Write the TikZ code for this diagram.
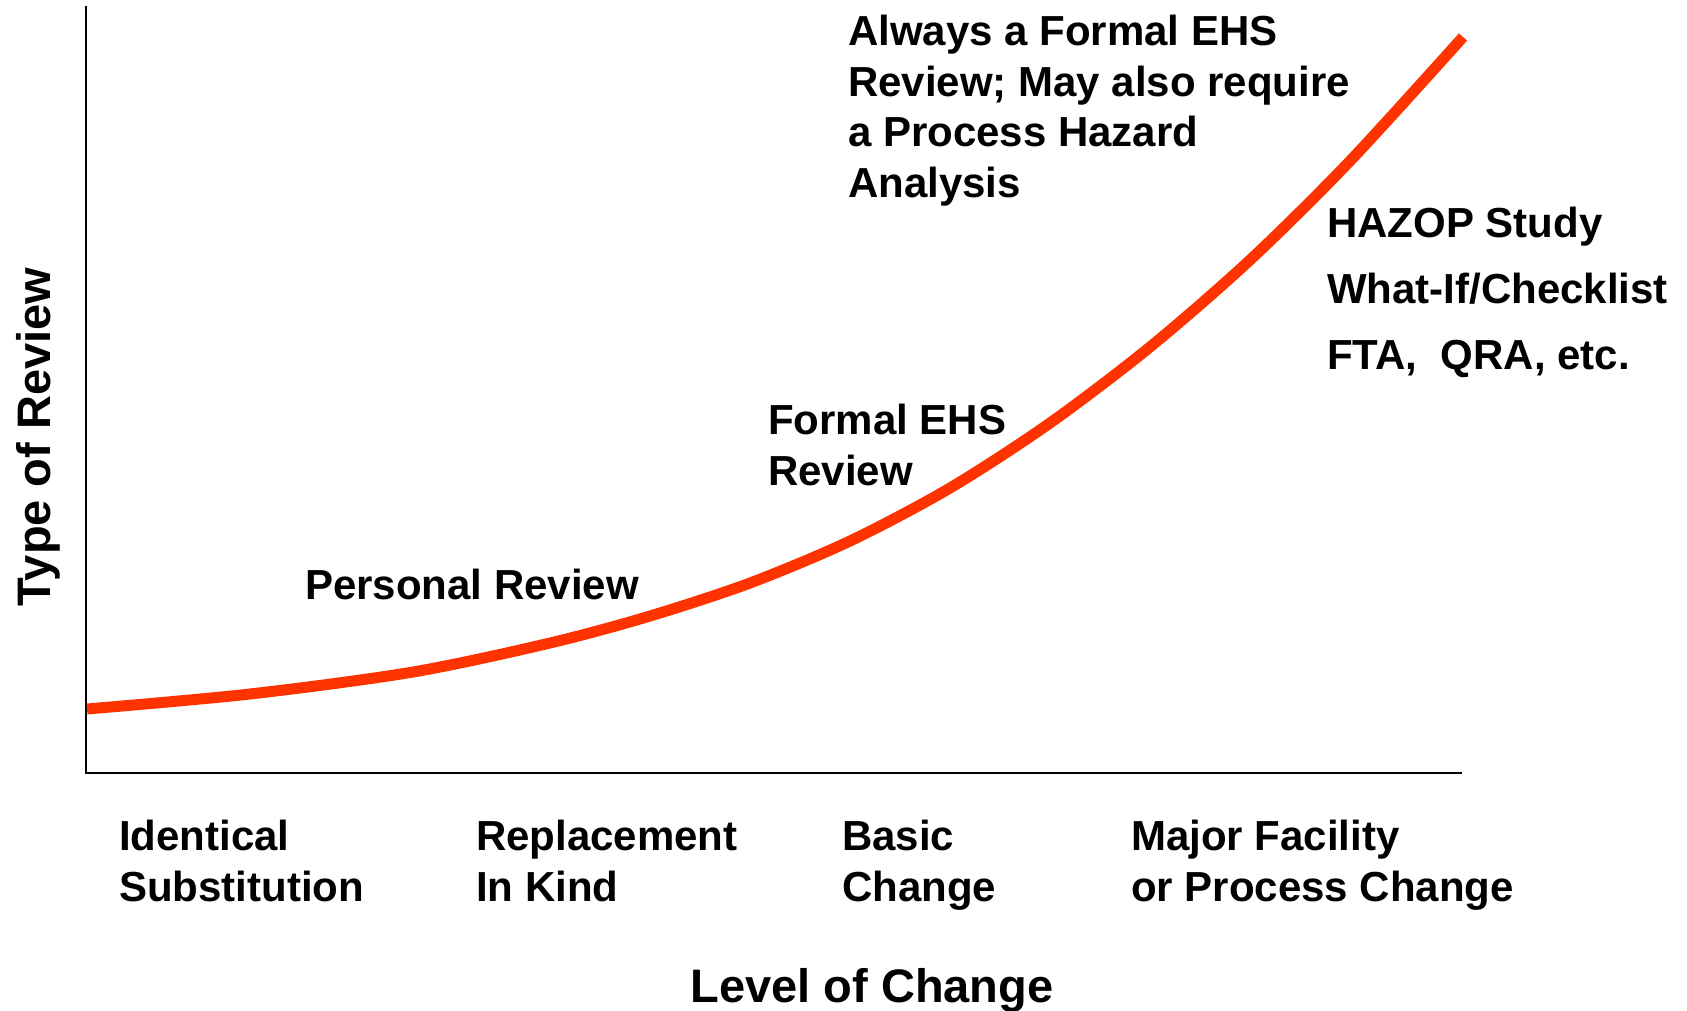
\documentclass[tikz,border=0pt]{standalone}
\usepackage{fontspec}
\setmainfont{Liberation Sans}
\definecolor{curvered}{RGB}{255,51,0}

\begin{document}
\begin{tikzpicture}[x=1pt,y=-1pt]
  \useasboundingbox (0,0) rectangle (1687,1010);
  \tikzstyle{LabelStyle}=[anchor=base west,align=left,inner sep=0pt,font=\bfseries\fontsize{42}{50.5}\selectfont]
  \tikzstyle{TitleStyle}=[anchor=base,inner sep=0pt,font=\bfseries\fontsize{47}{56}\selectfont]
  \tikzstyle{AxisStyle}=[line width=2.2pt]
  \tikzstyle{CurveStyle}=[line width=11pt,color=curvered]
  % axes
  \coordinate (Ytop) at (86,6);
  \coordinate (O) at (86,773);
  \coordinate (Xend) at (1462,773);
  \draw[AxisStyle] (Ytop) -- (O) -- (Xend);
  % review curve
  \draw[CurveStyle] plot[smooth] coordinates {(87,709) (250,694) (413,672) (550,643)
    (650,616) (750,583) (850,541) (950,488) (1050,423) (1150,347) (1250,260)
    (1350,161) (1463,37)};
  % texts along the curve (placed at the baseline of the last line)
  \node[LabelStyle] (personal) at (305,599) {Personal Review};
  \node[LabelStyle] (formal) at (768,485) {Formal EHS\\Review};
  \node[LabelStyle] (always) at (848,197) {Always a Formal EHS\\Review; May also require\\a Process Hazard\\Analysis};
  \node[LabelStyle,font=\bfseries\fontsize{42}{66}\selectfont] (hazop) at (1327,369) {HAZOP Study\\What-If/Checklist\\FTA,~~QRA, etc.};
  % levels of change
  \node[LabelStyle] (identical) at (119,901) {Identical\\Substitution};
  \node[LabelStyle] (replacement) at (476,901) {Replacement\\In Kind};
  \node[LabelStyle] (basic) at (842,901) {Basic\\Change};
  \node[LabelStyle] (major) at (1131,901) {Major Facility\\or Process Change};
  % axis titles
  \node[TitleStyle] (xlabel) at (872,1002) {Level of Change};
  \node[TitleStyle,rotate=90] (ylabel) at (50,437) {Type of Review};
\end{tikzpicture}
\end{document}
